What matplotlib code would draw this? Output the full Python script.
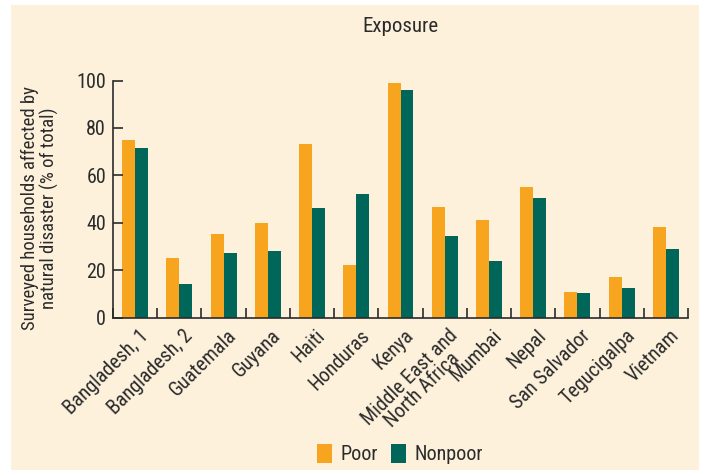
import matplotlib
matplotlib.use("Agg")
import matplotlib.pyplot as plt
from matplotlib import font_manager
from matplotlib.patches import Rectangle, Patch
import numpy as np

categories = ["Bangladesh, 1", "Bangladesh, 2", "Guatemala", "Guyana", "Haiti",
              "Honduras", "Kenya", "Middle East and\nNorth Africa", "Mumbai",
              "Nepal", "San Salvador", "Tegucigalpa", "Vietnam"]
poor = [75.0, 25.1, 35.2, 39.9, 73.2, 22.1, 99.0, 46.6, 41.1, 55.1, 10.7, 17.0, 38.2]
nonpoor = [71.6, 14.1, 27.2, 28.0, 46.2, 52.1, 96.0, 34.4, 23.8, 50.4, 10.3, 12.4, 28.9]
yticks = [0, 20, 40, 60, 80, 100]

# prefer a condensed sans if one is installed
available = {f.name for f in font_manager.fontManager.ttflist}
family = "DejaVu Sans"
for cand in ["Roboto Condensed", "Liberation Sans Narrow", "Open Sans Condensed", "Lato"]:
    if cand in available:
        family = cand
        break
plt.rcParams["font.family"] = [family, "DejaVu Sans"]

ORANGE = "#F7A51E"
GREEN = "#00665A"
CREAM = "#FDF1DC"
INK = "#2B2B2B"

W, H = 703, 470
fig = plt.figure(figsize=(W / 100, H / 100), dpi=100)
fig.patch.set_facecolor("white")
fig.add_artist(Rectangle((11 / W, 0), (699 - 11) / W, 1 - 5 / H,
                         transform=fig.transFigure, facecolor=CREAM,
                         edgecolor="none", zorder=-10))

ax = fig.add_axes([113 / W, 1 - 317.5 / H, (688 - 113) / W, (317.5 - 80.5) / H])
ax.set_facecolor("none")

x = np.arange(len(categories))
bw = 0.293
ax.bar(x - bw / 2, poor, width=bw, color=ORANGE, label="Poor")
ax.bar(x + bw / 2, nonpoor, width=bw, color=GREEN, label="Nonpoor")

ax.set_xlim(-0.5, len(categories) - 0.5)
ax.set_ylim(0, 100)
for s in ("top", "right"):
    ax.spines[s].set_visible(False)
for s in ("left", "bottom"):
    ax.spines[s].set_color(INK)
    ax.spines[s].set_linewidth(1.2)

ax.set_yticks(yticks)
ax.set_yticklabels([str(v) for v in yticks], fontsize=14.5, color=INK)
ax.tick_params(axis="y", direction="in", length=7, width=1.2, color=INK, pad=5)

# category boundaries carry the x ticks; labels sit under the category centres
ax.set_xticks(np.arange(len(categories) + 1) - 0.5)
ax.set_xticklabels([])
ax.tick_params(axis="x", direction="in", length=7, width=1.2, color=INK)
for xi, lab in zip(x, categories):
    ax.annotate(lab, xy=(xi + 0.08, 0), xycoords=("data", "axes fraction"),
                xytext=(0, -6), textcoords="offset points",
                rotation=45, rotation_mode="anchor", ha="right", va="top",
                fontsize=14.5, color=INK, multialignment="center",
                linespacing=0.9)

ax.set_ylabel("Surveyed households affected by\nnatural disaster (% of total)",
              fontsize=13.5, color=INK, linespacing=1.05)
ax.yaxis.set_label_coords((59 - 113) / 575, 0.46)

fig.text(400 / W, 1 - 27 / H, "Exposure", ha="center", va="center",
         fontsize=15, color=INK)

handles = [Patch(facecolor=ORANGE, edgecolor="none", label="Poor"),
           Patch(facecolor=GREEN, edgecolor="none", label="Nonpoor")]
fig.legend(handles=handles, loc="center", bbox_to_anchor=(400 / W, 1 - 454 / H),
           ncol=2, frameon=False, fontsize=14.5, handlelength=0.75,
           handleheight=1.05, handletextpad=0.45, columnspacing=0.6,
           labelcolor=INK)

fig.savefig("out.png", dpi=100)
